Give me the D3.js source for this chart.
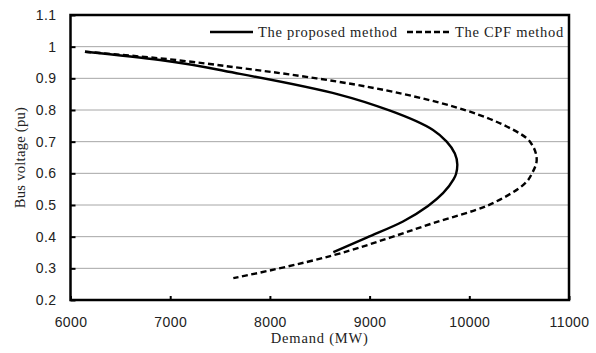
<!DOCTYPE html>
<html>
<head>
<meta charset="UTF-8" />
<script src="https://cdn.jsdelivr.net/npm/d3@7"></script>
<style>
  body, html { margin:0; padding:0; background:#fff; }
  svg { display:block; font-family: "Liberation Serif", "DejaVu Serif", serif; }
  .tick text { font-size: 14px; fill:#222; letter-spacing: 0.4px; }
</style>
</head>
<body>
<svg id="chart" width="596" height="353"></svg>
<script>
  // demand (MW) and bus voltage (pu), in path order
  const proposedDemand  = [6145, 6898, 7700, 8703, 9205, 9636, 9773, 9880, 9867, 9840, 9586, 9335, 8971, 8636];
  const proposedVoltage = [0.984, 0.958, 0.914, 0.848, 0.798, 0.737, 0.700, 0.627, 0.598, 0.580, 0.497, 0.448, 0.397, 0.351];
  const cpfDemand  = [6145, 6898, 7700, 8469, 9702, 9974, 10375, 10609, 10676, 10626, 10592, 10308, 10175, 9639, 9205, 8633, 8068, 7633];
  const cpfVoltage = [0.984, 0.963, 0.933, 0.900, 0.823, 0.798, 0.748, 0.700, 0.643, 0.598, 0.580, 0.517, 0.497, 0.443, 0.397, 0.341, 0.298, 0.269];
  const xTicks = [6000, 7000, 8000, 9000, 10000, 11000];
  const yTicks = [0.2, 0.3, 0.4, 0.5, 0.6, 0.7, 0.8, 0.9, 1.0, 1.1];

  const svg = d3.select('#chart');
  const plotL = 70.5, plotR = 569, plotT = 15, plotB = 300;

  const x = d3.scaleLinear().domain([6000, 11000]).range([plotL, plotR]);
  const y = d3.scaleLinear().domain([0.2, 1.1]).range([plotB, plotT]);

  // gridlines
  svg.append('g')
    .selectAll('line')
    .data(yTicks.slice(1, -1))
    .join('line')
      .attr('x1', plotL).attr('x2', plotR)
      .attr('y1', d => y(d)).attr('y2', d => y(d))
      .attr('stroke', '#a6a6a6').attr('stroke-width', 1);

  // axes with inward ticks
  const yAxis = svg.append('g')
    .attr('transform', `translate(${plotL},0)`)
    .call(d3.axisLeft(y).tickValues(yTicks).tickFormat(d => d === 1 ? '1' : d3.format('.1f')(d))
      .tickSizeInner(-5).tickSizeOuter(0).tickPadding(14));
  yAxis.select('.domain').remove();
  yAxis.selectAll('line').attr('stroke', '#000').attr('stroke-width', 2);

  const xAxis = svg.append('g')
    .attr('transform', `translate(0,${plotB})`)
    .call(d3.axisBottom(x).tickValues(xTicks).tickFormat(d3.format('d'))
      .tickSizeInner(-4).tickSizeOuter(0).tickPadding(17));
  xAxis.select('.domain').remove();
  xAxis.selectAll('line').attr('stroke', '#000').attr('stroke-width', 2);

  // frame
  svg.append('rect')
    .attr('x', plotL).attr('y', plotT)
    .attr('width', plotR - plotL).attr('height', plotB - plotT)
    .attr('fill', 'none').attr('stroke', '#000').attr('stroke-width', 2.5);

  // curves: voltage falls steadily along each path, so spline x against y
  const line = d3.line()
    .x(d => x(d[0])).y(d => y(d[1]))
    .curve(d3.curveMonotoneY);

  svg.append('path')
    .datum(d3.zip(proposedDemand, proposedVoltage))
    .attr('d', line)
    .attr('fill', 'none').attr('stroke', '#000').attr('stroke-width', 2.4);

  svg.append('path')
    .datum(d3.zip(cpfDemand, cpfVoltage))
    .attr('d', line)
    .attr('fill', 'none').attr('stroke', '#000').attr('stroke-width', 2.4)
    .attr('stroke-dasharray', '6,3.5');

  // legend
  const legend = [
    { label: 'The proposed method', x: 210, dash: null },
    { label: 'The CPF method', x: 407, dash: '6,3' }
  ];
  legend.forEach(d => {
    svg.append('line')
      .attr('x1', d.x).attr('x2', d.x + 43)
      .attr('y1', 32).attr('y2', 32)
      .attr('stroke', '#000').attr('stroke-width', 2.4)
      .attr('stroke-dasharray', d.dash);
    svg.append('text')
      .attr('x', d.x + 48).attr('y', 37)
      .attr('font-size', 14.5).attr('fill', '#222')
      .attr('letter-spacing', 0.7)
      .text(d.label);
  });

  // axis titles
  svg.append('text')
    .attr('x', (plotL + plotR) / 2).attr('y', 343)
    .attr('text-anchor', 'middle')
    .attr('font-size', 14.5).attr('fill', '#222')
    .attr('letter-spacing', 0.8)
    .text('Demand (MW)');

  svg.append('text')
    .attr('transform', `translate(25,${(plotT + plotB) / 2}) rotate(-90)`)
    .attr('text-anchor', 'middle')
    .attr('font-size', 14.5).attr('fill', '#222')
    .attr('letter-spacing', 0.3)
    .text('Bus voltage (pu)');
</script>
</body>
</html>
